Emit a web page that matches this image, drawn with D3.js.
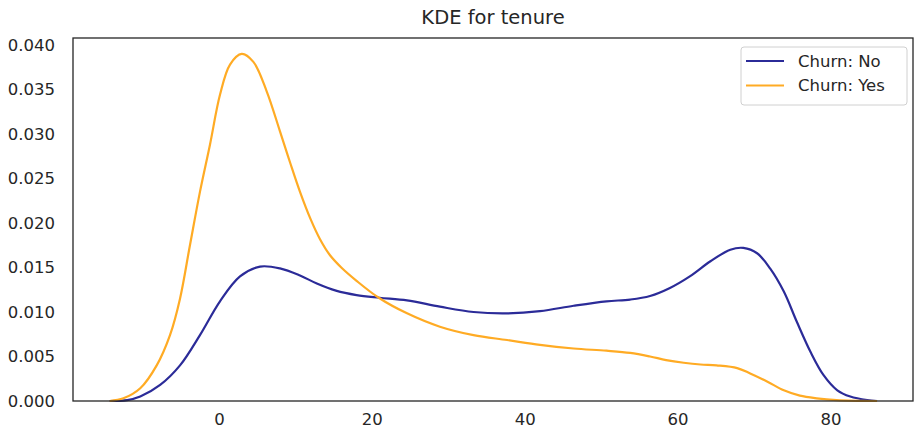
<!DOCTYPE html>
<html><head><meta charset="utf-8">
<script src="https://cdn.jsdelivr.net/npm/d3@7"></script>
<style>body{margin:0;background:#fff}svg{display:block}text{font-family:"DejaVu Sans",sans-serif;fill:#262626}</style>
</head><body><svg id="c" width="915" height="434"></svg>
<script>
const title = "KDE for tenure";
const seriesNames = ["Churn: No", "Churn: Yes"];
const seriesColors = ["#2b2b98", "#ffab24"];
const xTicks = [0, 20, 40, 60, 80];
const yTicks = [0, 0.005, 0.010, 0.015, 0.020, 0.025, 0.030, 0.035, 0.040];
const noX = [-14.3,-12,-10.3,-7.7,-5.1,-2.49,0.13,2.75,5.37,7.98,10.6,12.8,15.3,18,21,24.6,28.9,33.3,37.7,42.0,46.4,50.7,53.8,56.4,59.0,61.6,64.3,66.9,68.6,70.4,72.1,73.9,75.6,77.4,79.1,80.9,82.6,84.8,86.1];
const noY = [0,0.0001,0.0005,0.0018,0.0040,0.0074,0.0112,0.0140,0.0151,0.0149,0.0141,0.0132,0.0124,0.0119,0.0116,0.0113,0.0106,0.0100,0.00985,0.0101,0.0107,0.0112,0.0114,0.0118,0.0127,0.0140,0.0157,0.0170,0.0172,0.0166,0.0149,0.0123,0.0089,0.0055,0.0029,0.0012,0.0005,0.0001,0];
const yesX = [-14.3,-12.5,-10.3,-8.15,-6.41,-5.1,-3.8,-2.49,-1.18,0.13,1.44,2.97,4.5,6.24,7.98,9.3,10.6,12.0,13.2,14.5,16,18,20.9,24.6,28.9,33.3,37.7,42.0,46.4,50.7,53.8,56.4,58.5,60.8,63,65.1,67.8,69.5,71.7,73.9,76.0,78.2,80.8,86.1];
const yesY = [0,0.0003,0.00143,0.0040,0.0074,0.0115,0.0175,0.0235,0.0288,0.0344,0.0378,0.0390,0.0381,0.0348,0.0303,0.0268,0.0235,0.0204,0.0182,0.0164,0.0150,0.0135,0.0116,0.00985,0.00835,0.0074,0.00685,0.0063,0.0059,0.00565,0.0054,0.0050,0.0046,0.0043,0.0041,0.0040,0.0037,0.0031,0.0022,0.0012,0.0006,0.0003,0.0001,0];

const svg = d3.select("#c");
const L = 73, R = 913, T = 38, B = 401;
const x = d3.scaleLinear().domain([-19.1, 90.8]).range([L, R]);
const y = d3.scaleLinear().domain([0, 0.040]).range([B, 45]);

const series = [
  {name: seriesNames[0], color: seriesColors[0], pts: noX.map((v,i)=>[v, noY[i]])},
  {name: seriesNames[1], color: seriesColors[1], pts: yesX.map((v,i)=>[v, yesY[i]])}
];
const line = d3.line().x(d=>x(d[0])).y(d=>y(d[1])).curve(d3.curveCatmullRom.alpha(0.5));
svg.append("g").selectAll("path").data(series).join("path")
  .attr("d", d=>line(d.pts)).attr("fill","none").attr("stroke", d=>d.color).attr("stroke-width", 2.2);

const xAxis = svg.append("g").attr("transform", `translate(0,${B})`)
  .call(d3.axisBottom(x).tickValues(xTicks).tickSize(0).tickPadding(12).tickFormat(d3.format("d")));
xAxis.select(".domain").remove();
xAxis.selectAll("text").attr("font-size", 16.5).attr("fill", "#262626");
const yAxis = svg.append("g").attr("transform", `translate(${L},0)`)
  .call(d3.axisLeft(y).tickValues(yTicks).tickSize(0).tickPadding(18).tickFormat(d3.format(".3f")));
yAxis.select(".domain").remove();
yAxis.selectAll("text").attr("font-size", 16.5).attr("fill", "#262626");
svg.selectAll(".tick text").style("font-family", "DejaVu Sans");

svg.append("rect").attr("x", L).attr("y", T).attr("width", R-L).attr("height", B-T)
  .attr("fill","none").attr("stroke","#262626").attr("stroke-width",1.3);

svg.append("text").attr("x", (L+R)/2).attr("y", 24).attr("text-anchor","middle")
  .attr("font-size", 19.5).text(title);

const lg = svg.append("g");
lg.append("rect").attr("x", 741).attr("y", 47).attr("width", 166).attr("height", 58).attr("rx", 3)
  .attr("fill","#fff").attr("stroke","#d0d0d0").attr("stroke-width",1);
series.forEach((s,i)=>{
  const yy = 61 + i*24.5;
  lg.append("line").attr("x1",746).attr("x2",784).attr("y1",yy).attr("y2",yy).attr("stroke",s.color).attr("stroke-width",2.2);
  lg.append("text").attr("x",798).attr("y",yy).attr("dy","0.35em").attr("font-size",16.5).text(s.name);
});
</script></body></html>
